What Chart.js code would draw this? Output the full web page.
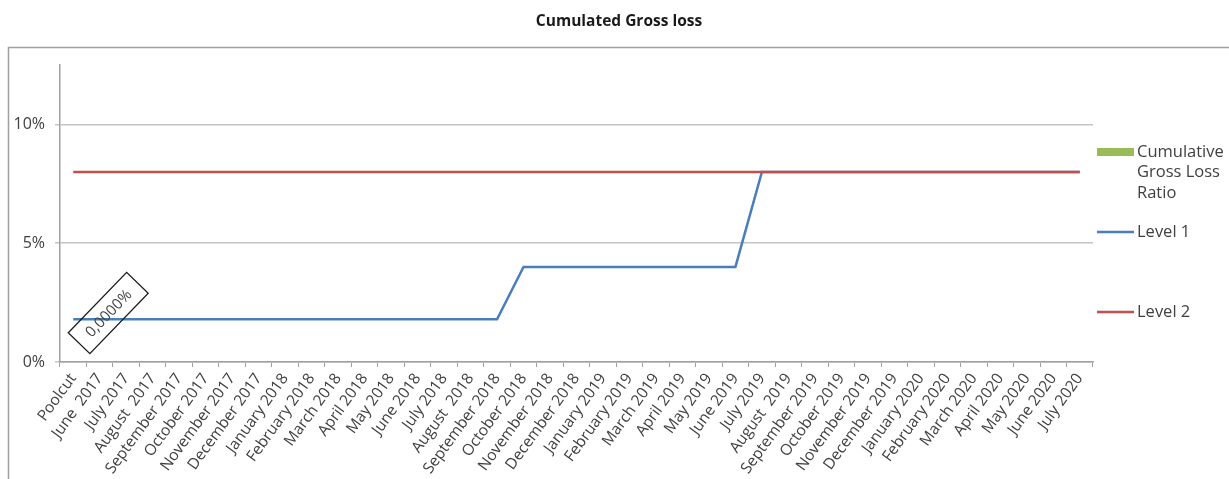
<!DOCTYPE html>
<html>
<head>
<meta charset="utf-8">
<script src="https://cdn.jsdelivr.net/npm/chart.js@4"></script>
<style>
  html, body { margin: 0; padding: 0; background: #ffffff; }
  #wrap { width: 1229px; height: 479px; }
</style>
</head>
<body>
<div id="wrap"><canvas id="lossChart"></canvas></div>
<script>
const chartTitle = 'Cumulated Gross loss';

const months = [
    'Poolcut', 'June  2017', 'July 2017', 'August  2017', 'September 2017', 'October 2017',
    'November 2017', 'December 2017', 'January 2018', 'February 2018', 'March 2018',
    'April 2018', 'May 2018', 'June 2018', 'July 2018', 'August  2018', 'September 2018',
    'October 2018', 'November 2018', 'December 2018', 'January 2019', 'February 2019',
    'March 2019', 'April 2019', 'May 2019', 'June 2019', 'July 2019', 'August  2019',
    'September 2019', 'October 2019', 'November 2019', 'December 2019', 'January 2020',
    'February 2020', 'March 2020', 'April 2020', 'May 2020', 'June 2020', 'July 2020'
];

// values in %
const grossLossRatio = [0, null, null, null, null, null, null, null, null, null,
    null, null, null, null, null, null, null, null, null, null,
    null, null, null, null, null, null, null, null, null, null,
    null, null, null, null, null, null, null, null, null];

const level1 = [1.8, 1.8, 1.8, 1.8, 1.8, 1.8, 1.8, 1.8, 1.8, 1.8,
    1.8, 1.8, 1.8, 1.8, 1.8, 1.8, 1.8, 4, 4, 4,
    4, 4, 4, 4, 4, 4, 8, 8, 8, 8,
    8, 8, 8, 8, 8, 8, 8, 8, 8];

const level2 = [8, 8, 8, 8, 8, 8, 8, 8, 8, 8,
    8, 8, 8, 8, 8, 8, 8, 8, 8, 8,
    8, 8, 8, 8, 8, 8, 8, 8, 8, 8,
    8, 8, 8, 8, 8, 8, 8, 8, 8];

const yTicks = [0, 5, 10];

const FONT = '"Open Sans", "DejaVu Sans", sans-serif';
const TEXT = '#404040';

// title, outer frame, legend and the boxed data label
const decorations = {
    id: 'decorations',
    beforeDraw(chart) {
        const ctx = chart.ctx;
        ctx.save();
        ctx.strokeStyle = '#a0a0a0';
        ctx.lineWidth = 1.5;
        ctx.strokeRect(8.5, 47.5, 1400, 600);
        ctx.fillStyle = '#1a1a1a';
        ctx.font = 'bold 15.5px ' + FONT;
        ctx.textAlign = 'center';
        ctx.textBaseline = 'middle';
        ctx.fillText(chartTitle, 619, 22);
        ctx.restore();
    },
    afterDraw(chart) {
        const ctx = chart.ctx;
        ctx.save();
        ctx.font = '16.5px ' + FONT;
        ctx.textAlign = 'left';
        ctx.textBaseline = 'middle';
        ctx.fillStyle = TEXT;

        // legend
        const ds = chart.data.datasets;
        const rows = [
            { d: ds[0], y: 152, lines: ['Cumulative', 'Gross Loss', 'Ratio'] },
            { d: ds[1], y: 232, lines: [ds[1].label] },
            { d: ds[2], y: 312, lines: [ds[2].label] }
        ];
        rows.forEach(r => {
            if (r.d.type === 'line') {
                ctx.strokeStyle = r.d.borderColor;
                ctx.lineWidth = 2.5;
                ctx.beginPath();
                ctx.moveTo(1097, r.y);
                ctx.lineTo(1134, r.y);
                ctx.stroke();
            } else {
                ctx.fillStyle = r.d.backgroundColor;
                ctx.fillRect(1097, r.y - 4, 37, 8);
            }
            ctx.fillStyle = TEXT;
            r.lines.forEach((t, i) => ctx.fillText(t, 1137, r.y + i * 20.5));
        });

        // data label of the poolcut value
        const xs = chart.scales.x, ys = chart.scales.y;
        const v = grossLossRatio[0];
        const cx = xs.getPixelForValue(0) + 35;
        const cy = ys.getPixelForValue(v) - 49;
        ctx.translate(cx, cy);
        ctx.rotate(-46 * Math.PI / 180);
        ctx.strokeStyle = '#1a1a1a';
        ctx.lineWidth = 1.3;
        ctx.strokeRect(-42, -15, 84, 30);
        ctx.font = '15px ' + FONT;
        ctx.fillStyle = TEXT;
        ctx.textAlign = 'center';
        ctx.fillText(v.toFixed(4).replace('.', ',') + '%', 0, 1);
        ctx.restore();
    }
};

const ctx = document.getElementById('lossChart').getContext('2d');
new Chart(ctx, {
    type: 'bar',
    data: {
        labels: months,
        datasets: [{
            type: 'bar',
            label: 'Cumulative Gross Loss Ratio',
            data: grossLossRatio,
            backgroundColor: '#9bbb59',
            borderWidth: 0,
            order: 2
        }, {
            type: 'line',
            label: 'Level 1',
            data: level1,
            borderColor: '#4a7ebb',
            borderWidth: 2.5,
            pointRadius: 0,
            tension: 0,
            fill: false,
            order: 1
        }, {
            type: 'line',
            label: 'Level 2',
            data: level2,
            borderColor: '#c0504d',
            borderWidth: 2.5,
            pointRadius: 0,
            tension: 0,
            fill: false,
            order: 0
        }]
    },
    options: {
        responsive: true,
        maintainAspectRatio: false,
        animation: false,
        layout: {
            padding: { left: 0, right: 136, top: 65, bottom: 0 }
        },
        plugins: {
            legend: { display: false },
            tooltip: { enabled: false }
        },
        scales: {
            x: {
                offset: true,
                grid: {
                    offset: true,
                    drawOnChartArea: false,
                    drawTicks: true,
                    tickLength: 5,
                    color: '#a0a0a0'
                },
                border: { color: '#a0a0a0', width: 1.5 },
                ticks: {
                    autoSkip: false,
                    minRotation: 54,
                    maxRotation: 54,
                    padding: 3,
                    color: TEXT,
                    font: { family: FONT, size: 15.5 }
                },
                afterFit(scale) { scale.height = 117; }
            },
            y: {
                min: 0,
                max: 12.5,
                grid: {
                    color: '#c4c4c4',
                    lineWidth: 1.5,
                    drawTicks: true,
                    tickLength: 5
                },
                border: { color: '#a0a0a0', width: 1.5 },
                afterBuildTicks(scale) {
                    scale.ticks = yTicks.map(v => ({ value: v }));
                },
                ticks: {
                    padding: 10,
                    color: TEXT,
                    font: { family: FONT, size: 16 },
                    callback: v => v + '%'
                },
                afterFit(scale) { scale.width = 60; }
            }
        }
    },
    plugins: [decorations]
});
</script>
</body>
</html>
